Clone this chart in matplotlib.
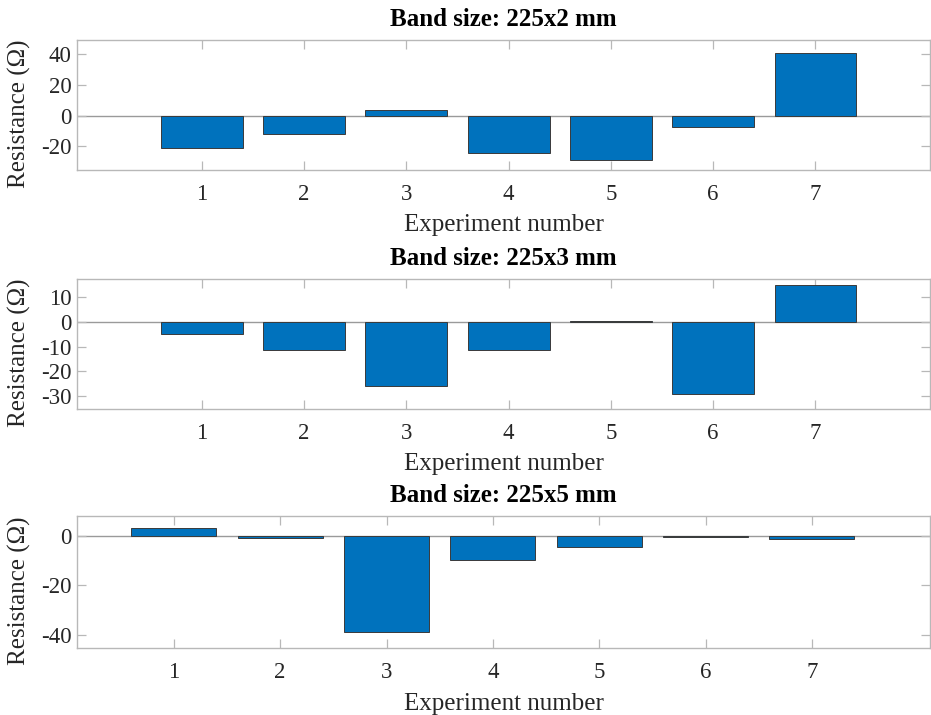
import numpy as np
import matplotlib
matplotlib.use('Agg')
import matplotlib.pyplot as plt

# Experiment numbers shared by all three panels
experiments = [1, 2, 3, 4, 5, 6, 7]

# Resistance change (Ohm) per band size
band_titles = ['Band size: 225x2 mm', 'Band size: 225x3 mm', 'Band size: 225x5 mm']
resistance_2mm = [-21.0, -12.0, 4.0, -24.0, -29.0, -7.5, 40.8]
resistance_3mm = [-5.0, -11.5, -26.0, -11.2, 0.3, -29.2, 15.1]
resistance_5mm = [3.2, -0.9, -38.7, -9.5, -4.5, -0.3, -1.3]

y_ticks_2mm = [-20, 0, 20, 40]
y_ticks_3mm = [-30, -20, -10, 0, 10]
y_ticks_5mm = [-40, -20, 0]

BAR_COLOR = '#0072BD'
AXIS_GRAY = '#b8b8b8'
TEXT_COLOR = '#262626'


def style_axes(ax, xlim, ylim, yticks):
    """
    Give an axes the boxed MATLAB look: light grey frame, inward ticks on all sides.
    """
    ax.set_xlim(*xlim)
    ax.set_ylim(*ylim)
    ax.set_xticks(experiments)
    ax.set_yticks(yticks)
    for spine in ax.spines.values():
        spine.set_color(AXIS_GRAY)
        spine.set_linewidth(1.0)
    ax.tick_params(axis='both', direction='in', length=6.5, width=0.9,
                   color=AXIS_GRAY, labelcolor=TEXT_COLOR, labelsize=16.5,
                   top=True, right=True)
    ax.tick_params(axis='x', pad=10)
    ax.tick_params(axis='y', pad=4)


def draw_panel(ax, values, title, xlim, ylim, yticks):
    """
    Draw one bar panel of resistance vs experiment number.
    """
    ax.axhline(0, color='#9a9a9a', linewidth=1.0, zorder=1)
    ax.bar(experiments, values, width=0.8, color=BAR_COLOR,
           edgecolor='#3a3a3a', linewidth=0.7, zorder=2)
    style_axes(ax, xlim, ylim, yticks)
    ax.set_title(title, fontsize=18, fontweight='bold', color='black', pad=10)
    ax.set_xlabel('Experiment number', fontsize=18, color=TEXT_COLOR)
    ax.set_ylabel('Resistance (Ω)', fontsize=18, color=TEXT_COLOR)
    ax.xaxis.set_label_coords(0.5, -0.34)
    ax.yaxis.set_label_coords(-0.054, 0.43)


def main():
    plt.rcParams['font.family'] = ['Liberation Serif', 'DejaVu Serif']
    plt.rcParams['axes.unicode_minus'] = False

    fig = plt.figure(figsize=(9.31, 7.15), dpi=100)

    W, H = 931.0, 715.0
    left = 77 / W
    width = (930 - 77) / W
    # (top, bottom) pixel rows of each axes box
    boxes = [(40, 170), (279, 409), (516, 648)]
    axes = []
    for top, bottom in boxes:
        axes.append(fig.add_axes([left, 1 - bottom / H, width, (bottom - top) / H]))

    draw_panel(axes[0], resistance_2mm, band_titles[0], (-0.22, 8.12), (-35.3, 49.2), y_ticks_2mm)
    draw_panel(axes[1], resistance_3mm, band_titles[1], (-0.22, 8.12), (-35.3, 17.4), y_ticks_3mm)
    draw_panel(axes[2], resistance_5mm, band_titles[2], (0.09, 8.11), (-45.3, 8.1), y_ticks_5mm)

    fig.savefig('out.png', dpi=100, facecolor='white')


if __name__ == "__main__":
    main()
